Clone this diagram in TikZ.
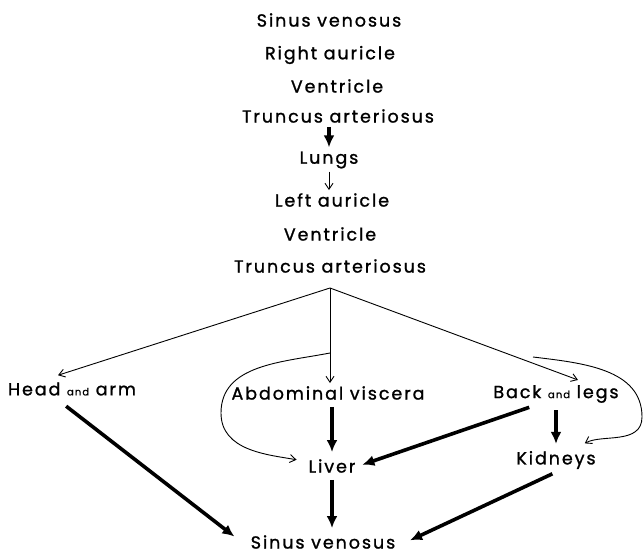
\documentclass[tikz,border=0pt]{standalone}
\usepackage{fontspec}
\setmainfont{Poppins}[LetterSpace=11,FakeBold=1.2]
\usetikzlibrary{arrows.meta,positioning}

\newcommand{\smalland}{{\fontsize{10}{10}\selectfont and}}

\begin{document}
\begin{tikzpicture}
		[   x=1pt,y=1pt,
		    organ/.style={inner sep=3pt,font=\fontsize{17.5}{19}\selectfont},
		]
		\tikzset{thin arrow/.style={draw,line width=0.9pt,-{Straight Barb[length=6pt,width=8pt]}}}
		\tikzset{thick arrow/.style={draw,line width=3.6pt,shorten <=4pt,shorten >=4pt,-{Latex[length=12pt,width=11pt]}}}
		\useasboundingbox (0,0) rectangle (644,556);
		
		% way through the heart and lungs
		\node[organ] (sv1) at (329,536) {Sinus venosus};
		\node[organ] (ra) at (330,501) {Right auricle};
		\node[organ] (v1) at (337,470) {Ventricle};
		\node[organ] (ta1) at (338,440) {Truncus arteriosus};
		\node[organ] (lu) at (329,396) {Lungs};
		\node[organ] (la) at (332,356) {Left auricle};
		\node[organ] (v2) at (330,322) {Ventricle};
		\node[organ] (ta2) at (330,290) {Truncus arteriosus};
		
		\coordinate (apex) at (330,268);
		
		% body
		\node[organ] (ha) at (72,167) {Head \smalland{} arm};
		\node[organ] (av) at (328,163) {Abdominal viscera};
		\node[organ] (bl) at (556,162) {Back \smalland{} legs};
		\node[organ] (li) at (332,90) {Liver};
		\node[organ] (ki) at (556,96) {Kidneys};
		\node[organ] (sv2) at (323,14) {Sinus venosus};
		
		\path[thick arrow,shorten <=1pt,shorten >=1pt] (ta1.south -| lu) -- (lu);
		\path[thin arrow] (lu) -- (lu |- la.north);
		
		% branches
		\path[thin arrow] (apex) -- ([xshift=-14pt,yshift=4pt]ha.north);
		\path[thin arrow] (apex) -- (apex |- av.north);
		\path[thin arrow] (apex) -- ([xshift=22pt,yshift=2pt]bl.north);
		
		\coordinate (lsplit) at (330,203);
		\coordinate (rsplit) at (533,199);
		\path[thin arrow,shorten >=9pt] (lsplit) to[out=191,in=90] (221,143) to[out=270,in=170] (li);
		\path[thin arrow,shorten >=9pt] (rsplit) to[out=-7,in=90] (642,139) to[out=270,in=30] (ki);
		
		% return to the sinus
		\path[thick arrow] ([shift={(-9pt,-5pt)}]ha.south) -- ([shift={(-10pt,3pt)}]sv2.west);
		\path[thick arrow] (av.south -| li) -- (li.north);
		\path[thick arrow] ([xshift=-23pt]bl.south) -- (li.east);
		\path[thick arrow] (bl.south) -- (ki.north);
		\path[thick arrow] (ki.south) -- ([xshift=8pt]sv2.east);
		\path[thick arrow] (li.south) -- (li |- sv2.north);
		\end{tikzpicture}
\end{document}
